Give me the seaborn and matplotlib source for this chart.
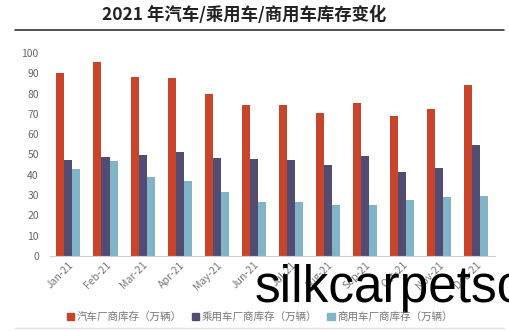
import matplotlib
matplotlib.use("Agg")
import matplotlib.pyplot as plt
import seaborn as sns
import pandas as pd
from matplotlib.lines import Line2D
from matplotlib.patches import Patch

months = ["Jan-21", "Feb-21", "Mar-21", "Apr-21", "May-21", "Jun-21",
          "Jul-21", "Aug-21", "Sep-21", "Oct-21", "Nov-21", "Dec-21"]
series_names = ["汽车厂商库存（万辆）", "乘用车厂商库存（万辆）", "商用车厂商库存（万辆）"]
auto_inv = [90.1, 95.6, 88.3, 87.7, 79.9, 74.3, 74.3, 70.2, 75.2, 68.9, 72.4, 84.4]
passenger_inv = [47.2, 48.7, 49.8, 51.0, 48.0, 47.8, 47.2, 44.9, 49.3, 41.1, 43.3, 54.8]
commercial_inv = [42.8, 46.9, 38.7, 36.8, 31.7, 26.3, 26.6, 25.0, 25.3, 27.6, 28.8, 29.4]
yticks = [0, 10, 20, 30, 40, 50, 60, 70, 80, 90, 100]
colors = ["#C8442A", "#524B72", "#80B4C6"]

df = pd.DataFrame({
    "month": months * 3,
    "series": [series_names[0]] * 12 + [series_names[1]] * 12 + [series_names[2]] * 12,
    "value": auto_inv + passenger_inv + commercial_inv,
})

sns.set_theme(style="white")
plt.rcParams["font.family"] = ["Noto Sans CJK SC", "DejaVu Sans"]

fig = plt.figure(figsize=(5.09, 3.31), dpi=100)
ax = fig.add_axes([0.098, 0.227, 0.874, 0.613])
sns.barplot(data=df, x="month", y="value", hue="series", palette=colors,
            width=0.65, ax=ax, legend=False, saturation=1, linewidth=0,
            edgecolor="none")

ax.set_ylim(0, 100)
ax.set_yticks(yticks)
ax.set_xlim(-0.5, 11.5)
ax.set_xlabel("")
ax.set_ylabel("")
for s in ["top", "right", "left"]:
    ax.spines[s].set_visible(False)
ax.spines["bottom"].set_color("#d0d0d0")
ax.spines["bottom"].set_linewidth(0.8)
ax.tick_params(axis="y", length=0, labelsize=7.5, labelcolor="#666666", pad=8)
ax.tick_params(axis="x", length=0, labelsize=7.5, labelcolor="#777777", pad=3)
plt.setp(ax.get_xticklabels(), rotation=45, ha="right", rotation_mode="anchor")

fig.text(0.48, 0.955, "2021 年汽车/乘用车/商用车库存变化", ha="center", va="center",
         fontsize=12.5, fontweight="bold", color="#222222")
fig.add_artist(Line2D([0.03, 0.99], [0.909, 0.909], color="#333333", lw=1.2))
fig.add_artist(Line2D([0.03, 0.99], [0.01, 0.01], color="#e0e0e0", lw=1.0))

handles = [Patch(color=c) for c in colors]
fig.legend(handles, series_names, loc="center", bbox_to_anchor=(0.51, 0.042),
           ncol=3, frameon=False, fontsize=7.6, handlelength=0.7, handleheight=0.7,
           handletextpad=0.2, columnspacing=1.0, labelcolor="#777777")

fig.text(255 / 509, 1 - 302 / 331, "silkcarpetsc", fontsize=37,
         family=["Liberation Sans", "DejaVu Sans"], color="black",
         ha="left", va="baseline")

fig.savefig("out.png", dpi=100)
